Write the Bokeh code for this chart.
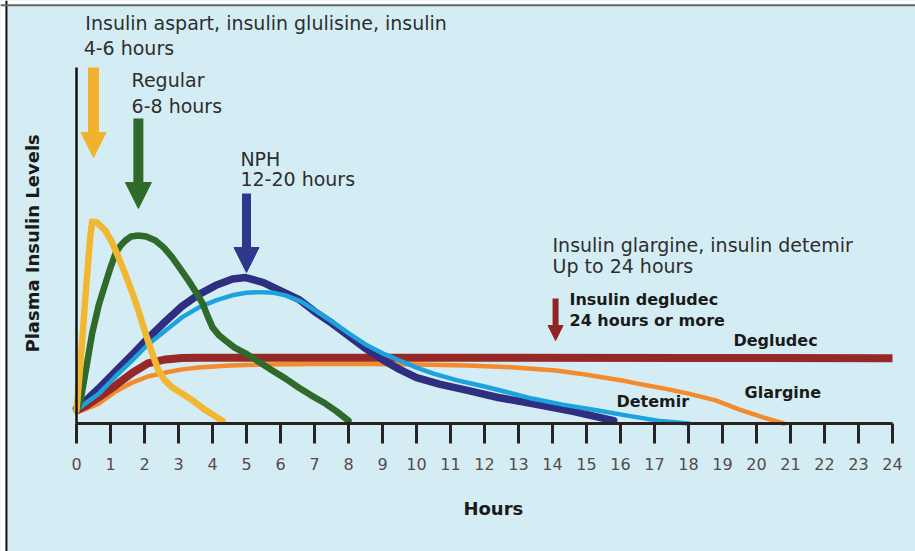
import math
from bokeh.plotting import figure
from bokeh.models import FixedTicker, Arrow, NormalHead, Range1d, Label, Span, BoxAnnotation
from bokeh.embed import file_html
from bokeh.resources import INLINE

# ---------------- data (hours vs. relative plasma insulin level) ----------------
hour_ticks = list(range(0, 25))

rapid_t = [0, 0.1, 0.2, 0.3, 0.4, 0.46, 0.6, 0.85, 1.05, 1.24, 1.45, 1.65, 1.85, 2.03, 2.22, 2.41, 2.6, 2.82, 3.1, 3.41, 3.8, 4.29]
rapid_y = [3.7, 14.9, 27.5, 40.2, 52.0, 56.7, 56.5, 54.2, 50.8, 46.6, 41.6, 36.5, 30.9, 25.3, 19.9, 14.9, 12.1, 10.1, 8.4, 6.5, 3.7, 0.8]

regular_t = [0, 0.12, 0.3, 0.46, 0.65, 0.85, 1.0, 1.15, 1.3, 1.44, 1.6, 1.82, 2.05, 2.32, 2.57, 2.82, 3.05, 3.29, 3.5,
             3.71, 3.85, 4.0, 4.2, 4.38, 4.65, 4.97, 5.35, 5.76, 6.15, 6.53, 6.9, 7.32, 7.65, 8.0]
regular_y = [3.7, 6.5, 16.3, 25.3, 33.1, 39.3, 43.8, 47.8, 50.0, 51.4, 52.5, 52.8, 52.5, 51.4, 49.4, 46.6, 43.5, 40.2, 37.1,
             33.7, 30.3, 27.0, 24.7, 23.3, 21.3, 19.7, 17.4, 14.9, 12.6, 10.1, 7.9, 5.6, 3.4, 0.8]

nph_t = [0, 0.3, 0.65, 1.15, 1.65, 2.1, 2.62, 3.1, 3.59, 4.1, 4.59, 4.97, 5.5, 6.1, 6.55, 7.08, 7.52, 8.06, 8.5,
         9.04, 9.5, 10.0, 10.7, 11.5, 12.4, 13.4, 14.6, 15.8]
nph_y = [4.2, 6.7, 9.8, 14.6, 19.4, 23.9, 28.7, 32.9, 36.2, 38.8, 40.6, 41.0, 39.6, 36.8, 34.8, 30.9, 28.1, 24.2, 21.1,
         17.7, 15.2, 12.9, 11.0, 9.3, 7.3, 5.6, 3.4, 0.8]

detemir_t = [0, 0.3, 0.66, 1.15, 1.64, 2.1, 2.62, 3.1, 3.6, 4.1, 4.58, 5.0, 5.36, 5.8, 6.15, 6.6, 7.03, 7.5, 8.01,
             8.5, 9.0, 9.5, 10.0, 10.5, 11.2, 12.0, 12.7, 13.4, 14.3, 15.3, 16.2, 17.1, 18.0]
detemir_y = [3.7, 5.9, 8.4, 13.2, 17.7, 22.2, 26.1, 29.8, 32.6, 34.6, 36.0, 36.7, 36.9, 36.7, 36.0, 34.3, 31.7, 28.7, 25.3,
             22.2, 19.7, 17.7, 15.7, 14.0, 12.1, 10.4, 8.7, 7.0, 5.3, 3.7, 2.2, 0.8, 0.0]

degludec_t = [0, 0.3, 0.65, 1.15, 1.65, 2.1, 2.62, 3.1, 3.59, 6, 12, 18, 24]
degludec_y = [3.7, 5.1, 7.3, 10.7, 14.3, 16.9, 18.0, 18.4, 18.5, 18.5, 18.5, 18.4, 18.3]

glargine_t = [0, 0.3, 0.66, 1.15, 1.64, 2.1, 2.62, 3.1, 3.6, 4.5, 5.56, 7.0, 8.5, 10.0, 11.5, 12.6, 13.4, 14.1,
              14.8, 15.5, 16.05, 16.6, 17.3, 18.0, 18.8, 19.5, 20.2, 20.8]
glargine_y = [3.1, 4.2, 5.6, 9.0, 11.5, 13.2, 14.3, 15.2, 15.7, 16.3, 16.6, 16.7, 16.7, 16.6, 16.3, 15.9, 15.4, 14.9,
              14.0, 12.9, 12.1, 11.0, 9.8, 8.4, 6.5, 3.9, 1.7, 0.0]

# ---------------- styling ----------------
BG = "#D4EDF4"
C_RAPID = "#F2B731"
C_REG = "#2F6A2B"
C_NPH = "#2E2F80"
C_DET = "#1CA3DE"
C_DEG = "#962828"
C_GLA = "#F38A2B"
TXT = "#2E2E2E"
BOLD_TXT = "#1a1a1a"
FONT = "DejaVu Sans"

# frame covers the whole canvas; axes pinned at the data origin
p = figure(width=915, height=551, output_backend="svg", toolbar_location=None,
           x_range=Range1d(-2.235, 24.676), y_range=Range1d(-35.96, 118.82))
p.min_border_left = 0
p.min_border_right = 0
p.min_border_top = 0
p.min_border_bottom = 0
p.background_fill_color = BG
p.border_fill_color = BG
p.outline_line_color = None
p.grid.visible = False

# x axis
xa = p.xaxis[0]
xa.fixed_location = 0
xa.ticker = FixedTicker(ticks=hour_ticks)
xa.bounds = (0, 24)
xa.axis_line_width = 3
xa.axis_line_color = "#2a2222"
xa.axis_line_cap = "butt"
xa.major_tick_in = 0
xa.major_tick_out = 20
xa.major_tick_line_width = 3
xa.major_tick_line_color = "#2a2222"
xa.minor_tick_line_color = None
xa.major_label_text_font = FONT
xa.major_label_text_font_size = "16px"
xa.major_label_text_color = "#554a4a"
xa.major_label_standoff = 15

# y axis
ya = p.yaxis[0]
ya.fixed_location = 0
ya.ticker = FixedTicker(ticks=[])
ya.bounds = (0, 100)
ya.axis_line_width = 2.5
ya.axis_line_color = "#111111"
ya.major_tick_out = 0
ya.major_tick_in = 0
ya.minor_tick_line_color = None
ya.major_label_text_font_size = "0px"

# axis titles
p.add_layout(Label(x=12.26, y=-23.9, text="Hours", text_font=FONT, text_font_size="18px",
                   text_font_style="bold", text_color=BOLD_TXT,
                   text_align="center", text_baseline="middle"))
p.add_layout(Label(x=-1.29, y=50.6, text="Plasma Insulin Levels", angle=math.pi / 2,
                   text_font=FONT, text_font_size="18px", text_font_style="bold",
                   text_color=BOLD_TXT, text_align="center", text_baseline="alphabetic"))

# picture border (white margin, dark left rule, grey top rule)
p.add_layout(BoxAnnotation(right=-2.09, fill_color="white", fill_alpha=1, line_color=None))
p.add_layout(BoxAnnotation(bottom=117.6, fill_color="white", fill_alpha=1, line_color=None))
p.add_layout(Span(location=-2.06, dimension="height", line_color="#111111", line_width=2))
p.add_layout(Span(location=117.5, dimension="width", line_color="#666666", line_width=2))

# curves
style = dict(line_cap="round", line_join="round")
p.line(glargine_t, glargine_y, line_color=C_GLA, line_width=4.5, **style)
p.line(degludec_t, degludec_y, line_color=C_DEG, line_width=8, line_cap="butt", line_join="round")
p.line(nph_t, nph_y, line_color=C_NPH, line_width=7.5, **style)
p.line(detemir_t, detemir_y, line_color=C_DET, line_width=4.5, **style)
p.line(regular_t, regular_y, line_color=C_REG, line_width=6.5, **style)
p.line(rapid_t, rapid_y, line_color=C_RAPID, line_width=6.5, **style)

# arrows: (x, top, tip, shaft width, head size, colour)
arrows = [
    (0.5, 100.0, 74.7, 11, 25, "#F2B22E"),
    (1.82, 85.7, 60.4, 10, 26, C_REG),
    (5.0, 64.6, 42.4, 9, 25, "#2D388A"),
    (14.09, 35.1, 23.3, 6, 15, "#8E2626"),
]
for ax, atop, atip, aw, ahs, acol in arrows:
    p.add_layout(Arrow(x_start=ax, y_start=atop, x_end=ax, y_end=atip,
                       line_color=acol, line_width=aw,
                       end=NormalHead(size=ahs, fill_color=acol, line_color=acol, line_width=1)))

# annotation texts: (x, y, text, size, bold)
notes = [
    (0.26, 112.6, "Insulin aspart, insulin glulisine, insulin", "19px", False),
    (0.21, 105.6, "4-6 hours", "19px", False),
    (1.62, 96.6, "Regular", "19px", False),
    (1.62, 89.3, "6-8 hours", "19px", False),
    (4.82, 74.4, "NPH", "19px", False),
    (4.82, 68.8, "12-20 hours", "19px", False),
    (14.0, 50.0, "Insulin glargine, insulin detemir", "19px", False),
    (14.0, 44.1, "Up to 24 hours", "19px", False),
    (14.5, 34.8, "Insulin degludec", "16px", True),
    (14.5, 28.9, "24 hours or more", "16px", True),
    (19.32, 23.3, "Degludec", "16px", True),
    (19.65, 8.7, "Glargine", "16px", True),
    (15.88, 6.2, "Detemir", "16px", True),
]
for tx, ty, tt, ts, tb in notes:
    p.add_layout(Label(x=tx, y=ty, text=tt, x_units="data", y_units="data",
                       text_font=FONT, text_font_size=ts,
                       text_font_style="bold" if tb else "normal",
                       text_color=BOLD_TXT if tb else TXT,
                       text_align="left", text_baseline="middle"))

open("out.html", "w").write(file_html(p, INLINE))
